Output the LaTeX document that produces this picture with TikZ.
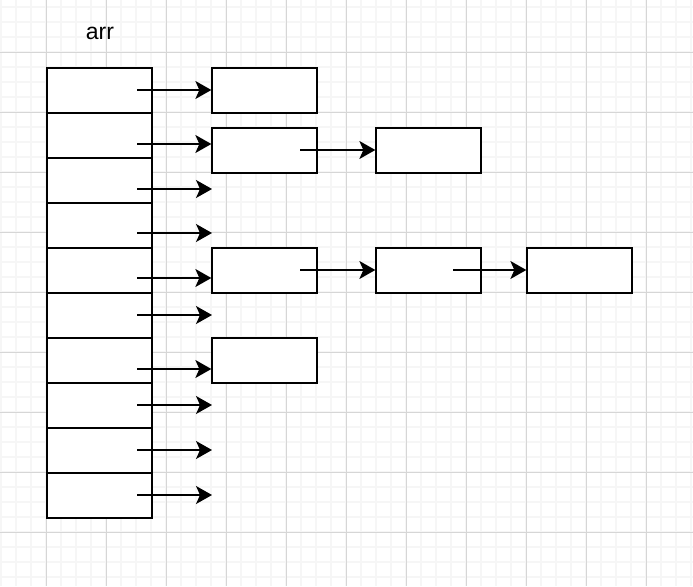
\documentclass[tikz,border=0pt]{standalone}
\usepackage{fontspec}
\setmainfont{Liberation Sans}
\usetikzlibrary{arrows.meta}
\definecolor{gridminor}{RGB}{246,246,246}
\definecolor{gridmajor}{RGB}{214,214,214}
\begin{document}
\begin{tikzpicture}[x=1pt, y=-1pt,
    minorline/.style={gridminor, line width=1.5pt},
    majorline/.style={gridmajor, line width=0.9pt},
    cell/.style={draw, line width=1.3pt, fill=white, minimum width=105pt, minimum height=45pt, inner sep=0pt},
    link/.style={line width=1.4pt, -{Stealth[length=16pt, width=18pt, inset=4pt]}}]
    \useasboundingbox (0,0) rectangle (693,586);
    \foreach \x in {1,16,...,693} \draw[minorline] (\x,0) -- (\x,586);
    \foreach \y in {7,22,...,586} \draw[minorline] (0,\y) -- (693,\y);
    \foreach \x in {46,106,...,693} \draw[majorline] (\x,0) -- (\x,586);
    \foreach \y in {52,112,...,586} \draw[majorline] (0,\y) -- (693,\y);

    \node (arr) at (100,33) {\fontsize{23}{27}\selectfont arr};

    \node[cell] (c1) at (99.5,90.5) {};
    \node[cell] (c2) at (99.5,135.5) {};
    \node[cell] (c3) at (99.5,180.5) {};
    \node[cell] (c4) at (99.5,225.5) {};
    \node[cell] (c5) at (99.5,270.5) {};
    \node[cell] (c6) at (99.5,315.5) {};
    \node[cell] (c7) at (99.5,360.5) {};
    \node[cell] (c8) at (99.5,405.5) {};
    \node[cell] (c9) at (99.5,450.5) {};
    \node[cell] (c10) at (99.5,495.5) {};

    \node[cell] (a1) at (264.5,90.5) {};
    \node[cell] (b1) at (264.5,150.5) {};
    \node[cell] (b2) at (428.5,150.5) {};
    \node[cell] (e1) at (264.5,270.5) {};
    \node[cell] (e2) at (428.5,270.5) {};
    \node[cell] (e3) at (579.5,270.5) {};
    \node[cell] (d1) at (264.5,360.5) {};

    \coordinate (s1) at (137,90);
    \coordinate (s2) at (137,144);
    \coordinate (s3) at (137,189);
    \coordinate (s4) at (137,233);
    \coordinate (s5) at (137,278);
    \coordinate (s6) at (137,315);
    \coordinate (s7) at (137,369);
    \coordinate (s8) at (137,405);
    \coordinate (s9) at (137,450);
    \coordinate (s10) at (137,495);
    \coordinate (t3) at (212,189);
    \coordinate (t4) at (212,233);
    \coordinate (t6) at (212,315);
    \coordinate (t8) at (212,405);
    \coordinate (t9) at (212,450);
    \coordinate (t10) at (212,495);
    \coordinate (sb) at (300,150);
    \coordinate (se1) at (300,270);
    \coordinate (se2) at (453,270);

    \draw[link] (s1) -- (s1 -| a1.west);
    \draw[link] (s2) -- (s2 -| b1.west);
    \draw[link] (s3) -- (t3);
    \draw[link] (s4) -- (t4);
    \draw[link] (s5) -- (s5 -| e1.west);
    \draw[link] (s6) -- (t6);
    \draw[link] (s7) -- (s7 -| d1.west);
    \draw[link] (s8) -- (t8);
    \draw[link] (s9) -- (t9);
    \draw[link] (s10) -- (t10);
    \draw[link] (sb) -- (sb -| b2.west);
    \draw[link] (se1) -- (se1 -| e2.west);
    \draw[link] (se2) -- (se2 -| e3.west);
\end{tikzpicture}
\end{document}
